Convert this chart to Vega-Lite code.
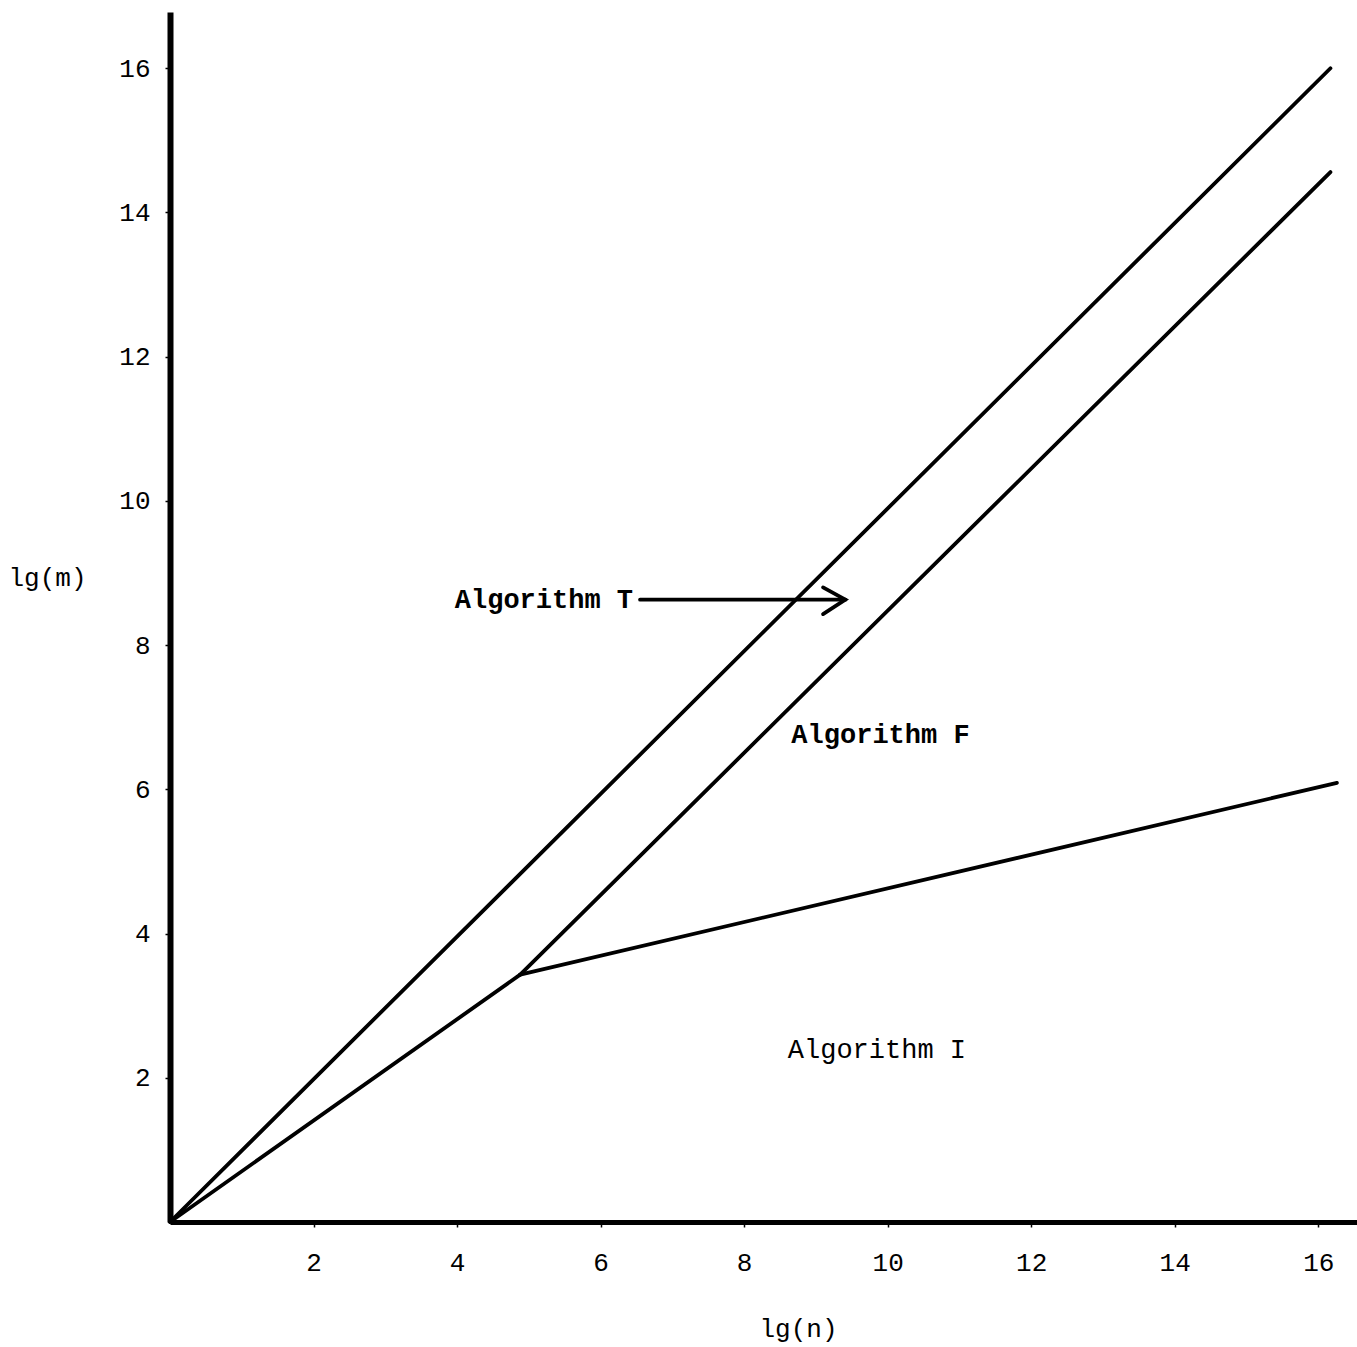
{
  "$schema": "https://vega.github.io/schema/vega-lite/v6.json",
  "width": 1187,
  "height": 1210,
  "autosize": {"type": "none"},
  "padding": {"left": 170, "top": 12, "right": 0, "bottom": 125},
  "background": "white",
  "config": {"view": {"stroke": null}, "font": "Liberation Mono"},
  "datasets": {
    "lines": [
      {"series": "T", "order": 1, "lgn": 0, "lgm": 0},
      {"series": "T", "order": 2, "lgn": 16.17, "lgm": 16.0},
      {"series": "low", "order": 1, "lgn": 0, "lgm": 0},
      {"series": "low", "order": 2, "lgn": 4.88, "lgm": 3.43},
      {"series": "F", "order": 1, "lgn": 4.88, "lgm": 3.43},
      {"series": "F", "order": 2, "lgn": 16.17, "lgm": 14.56},
      {"series": "I", "order": 1, "lgn": 4.88, "lgm": 3.43},
      {"series": "I", "order": 2, "lgn": 16.26, "lgm": 6.09},
      {"series": "arrow", "order": 1, "lgn": 6.55, "lgm": 8.63},
      {"series": "arrow", "order": 2, "lgn": 9.41, "lgm": 8.63},
      {"series": "head", "order": 1, "lgn": 9.1, "lgm": 8.8},
      {"series": "head", "order": 2, "lgn": 9.41, "lgm": 8.63},
      {"series": "head", "order": 3, "lgn": 9.1, "lgm": 8.43}
    ],
    "boldLabels": [
      {"label": "Algorithm T", "lgn": 5.21, "lgm": 8.63},
      {"label": "Algorithm F", "lgn": 9.9, "lgm": 6.75}
    ],
    "plainLabels": [
      {"label": "Algorithm I", "lgn": 9.85, "lgm": 2.39}
    ]
  },
  "layer": [
    {
      "data": {"name": "lines"},
      "mark": {"type": "line", "color": "black", "strokeWidth": 3.8, "strokeCap": "round"},
      "encoding": {
        "x": {
          "field": "lgn", "type": "quantitative",
          "scale": {"domain": [0, 16.54], "nice": false, "zero": false},
          "axis": {
            "values": [2, 4, 6, 8, 10, 12, 14, 16],
            "format": "d",
            "grid": false,
            "domainColor": "black", "domainWidth": 5,
            "tickColor": "black", "tickSize": 5, "tickWidth": 1.5,
            "labelFont": "Liberation Mono", "labelFontSize": 26, "labelColor": "black",
            "labelPadding": 22,
            "title": "lg(n)", "titleFont": "Liberation Mono", "titleFontSize": 26,
            "titleFontWeight": "normal", "titleColor": "black",
            "titleX": 628, "titleY": 106, "titleAlign": "center", "titleBaseline": "middle"
          }
        },
        "y": {
          "field": "lgm", "type": "quantitative",
          "scale": {"domain": [0, 16.78], "nice": false, "zero": false},
          "axis": {
            "values": [2, 4, 6, 8, 10, 12, 14, 16],
            "format": "d",
            "grid": false,
            "domainColor": "black", "domainWidth": 6,
            "tickColor": "black", "tickSize": 5, "tickWidth": 1.5,
            "labelFont": "Liberation Mono", "labelFontSize": 26, "labelColor": "black",
            "labelPadding": 15,
            "title": "lg(m)", "titleFont": "Liberation Mono", "titleFontSize": 26,
            "titleFontWeight": "normal", "titleColor": "black", "titleAngle": 0,
            "titleX": -123, "titleY": 565, "titleAlign": "center", "titleBaseline": "middle"
          }
        },
        "detail": {"field": "series", "type": "nominal"},
        "order": {"field": "order", "type": "quantitative"}
      }
    },
    {
      "data": {"name": "boldLabels"},
      "mark": {"type": "text", "font": "Liberation Mono", "fontSize": 27, "fontWeight": "bold", "color": "black", "align": "center", "baseline": "middle"},
      "encoding": {
        "x": {"field": "lgn", "type": "quantitative"},
        "y": {"field": "lgm", "type": "quantitative"},
        "text": {"field": "label"}
      }
    },
    {
      "data": {"name": "plainLabels"},
      "mark": {"type": "text", "font": "Liberation Mono", "fontSize": 27, "fontWeight": "normal", "color": "black", "align": "center", "baseline": "middle"},
      "encoding": {
        "x": {"field": "lgn", "type": "quantitative"},
        "y": {"field": "lgm", "type": "quantitative"},
        "text": {"field": "label"}
      }
    }
  ]
}
